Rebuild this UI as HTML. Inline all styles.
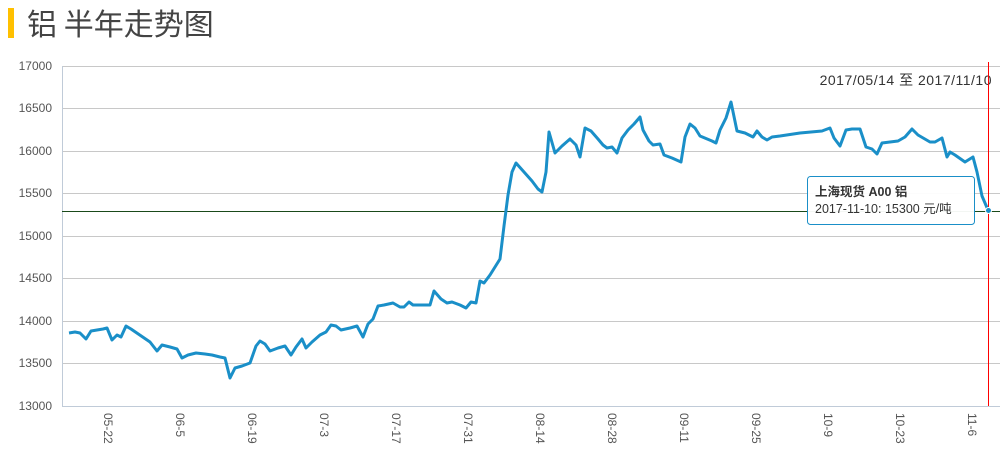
<!DOCTYPE html><html><head><meta charset="utf-8"><style>
body{margin:0;background:#fff;width:1007px;height:455px;overflow:hidden;font-family:"Liberation Sans","Noto Sans CJK SC",sans-serif}
</style></head><body>
<svg width="1007" height="455" xmlns="http://www.w3.org/2000/svg" style="position:absolute;left:0;top:0">
<rect x="8" y="8" width="6" height="30" fill="#ffc000"/>
<text x="27" y="35" font-size="30" fill="#444" font-family="Noto Sans CJK SC,sans-serif">铝 半年走势图</text>
<g stroke="#c8c8c8" stroke-width="1">
<line x1="62" y1="66.5" x2="1000" y2="66.5"/><line x1="62" y1="108.5" x2="1000" y2="108.5"/>
<line x1="62" y1="151.5" x2="1000" y2="151.5"/><line x1="62" y1="193.5" x2="1000" y2="193.5"/>
<line x1="62" y1="236.5" x2="1000" y2="236.5"/><line x1="62" y1="278.5" x2="1000" y2="278.5"/>
<line x1="62" y1="321.5" x2="1000" y2="321.5"/><line x1="62" y1="363.5" x2="1000" y2="363.5"/>
</g>
<line x1="62.5" y1="66" x2="62.5" y2="406" stroke="#c0cbd8"/>
<line x1="62" y1="406.5" x2="1000" y2="406.5" stroke="#c0cbd8"/>
<g font-size="12" fill="#555" text-anchor="end">
<text x="52" y="70">17000</text><text x="52" y="112">16500</text><text x="52" y="155">16000</text>
<text x="52" y="197">15500</text><text x="52" y="240">15000</text><text x="52" y="282">14500</text>
<text x="52" y="325">14000</text><text x="52" y="367">13500</text><text x="52" y="410">13000</text>
</g>
<g font-size="12" fill="#555">
<text transform="translate(104,413) rotate(90)">05-22</text><text transform="translate(176,413) rotate(90)">06-5</text>
<text transform="translate(248,413) rotate(90)">06-19</text><text transform="translate(320,413) rotate(90)">07-3</text>
<text transform="translate(392,413) rotate(90)">07-17</text><text transform="translate(464,413) rotate(90)">07-31</text>
<text transform="translate(536,413) rotate(90)">08-14</text><text transform="translate(608,413) rotate(90)">08-28</text>
<text transform="translate(680,413) rotate(90)">09-11</text><text transform="translate(752,413) rotate(90)">09-25</text>
<text transform="translate(824,413) rotate(90)">10-9</text><text transform="translate(896,413) rotate(90)">10-23</text>
<text transform="translate(968,413) rotate(90)">11-6</text>
</g>
<text x="992" y="85" font-size="14" fill="#333" text-anchor="end" letter-spacing="0.5">2017/05/14 至 2017/11/10</text>
<line x1="62" y1="211.5" x2="1000" y2="211.5" stroke="#1a4a1a" stroke-width="1"/>
<line x1="988.5" y1="62" x2="988.5" y2="406" stroke="#f00" stroke-width="1"/>
<polyline fill="none" stroke="#1a8fc8" stroke-width="3" stroke-linejoin="round" points="69,333 75,332 80,333 86,339 91,331 97,330 103,329 107,328 112,340 117,335 121,337 126,326 131,329 150,342 157,351 162,345 170,347 177,349 182,358 188,355 196,353 205,354 212,355 220,357 225,358 230,378 235,368 242,366 250,363 256,346 260,341 265,344 270,351 278,348 285,346 291,355 296,347 302,339 306,348 312,342 320,335 326,332 331,325 336,326 341,330 350,328 357,326 363,337 368,324 373,319 378,306 384,305 393,303 400,307 404,307 409,302 413,305 420,305 430,305 434,291 441,299 447,303 452,302 460,305 466,308 471,302 476,303 480,281 484,283 490,275 500,259 504,226 508,195 512,172 516,163 524,172 532,181 538,189 542,192 546,172 549,132 555,153 562,146 570,139 576,145 580,157 585,128 591,131 598,139 603,145 607,148 612,147 617,153 622,138 628,130 634,124 640,117 643,130 649,141 653,145 660,144 664,155 672,158 681,162 685,137 690,124 695,128 700,136 712,141 716,143 720,130 726,118 731,102 737,131 745,133 753,137 757,131 762,137 767,140 772,137 780,136 800,133 822,131 830,128 834,138 840,146 846,130 852,129 860,129 866,147 872,149 877,154 882,143 890,142 898,141 905,137 912,129 918,135 930,142 935,142 942,138 947,157 950,152 955,155 965,162 973,157 977,172 982,196 988,210"/>
<circle cx="988.5" cy="210.5" r="3" fill="#1a8fc8" stroke="#fff" stroke-width="1"/>
<rect x="807.5" y="176.5" width="167" height="48" rx="3" fill="#fff" fill-opacity="0.95" stroke="#1a8fc8" stroke-width="1"/>
<text x="815" y="196" font-size="12.5" fill="#333" font-weight="bold">上海现货 A00 铝</text>
<text x="815" y="213" font-size="12.5" fill="#333">2017-11-10: 15300 元/吨</text>
</svg>
</body></html>
